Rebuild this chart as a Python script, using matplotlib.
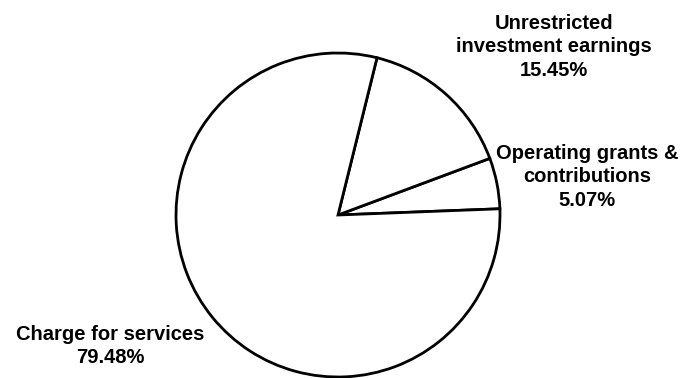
import matplotlib
matplotlib.use("Agg")
import matplotlib.pyplot as plt

categories = ["Operating grants &\ncontributions", "Unrestricted\ninvestment earnings", "Charge for services"]
values = [5.07, 15.45, 79.48]

W, H = 699, 378
fig = plt.figure(figsize=(W / 100, H / 100), dpi=100)
cx, cy, r = 338, 215, 162
ax = fig.add_axes([(cx - r) / W, (H - cy - r) / H, 2 * r / W, 2 * r / H])
ax.pie(values, startangle=2.2, counterclock=True,
       colors=["white"] * 3,
       wedgeprops=dict(edgecolor="black", linewidth=2.0))
ax.set_xlim(-1, 1)
ax.set_ylim(-1, 1)
ax.set_aspect("equal")
ax.axis("off")

label_pos = [(587, 177), (554, 47), (110, 346)]
for cat, val, (x, y) in zip(categories, values, label_pos):
    fig.text(x / W, 1 - y / H, f"{cat}\n{val:.2f}%", ha="center", va="center",
             fontsize=14.5, fontweight="bold", family="Liberation Sans",
             linespacing=1.33)

fig.savefig("out.png", dpi=100)
